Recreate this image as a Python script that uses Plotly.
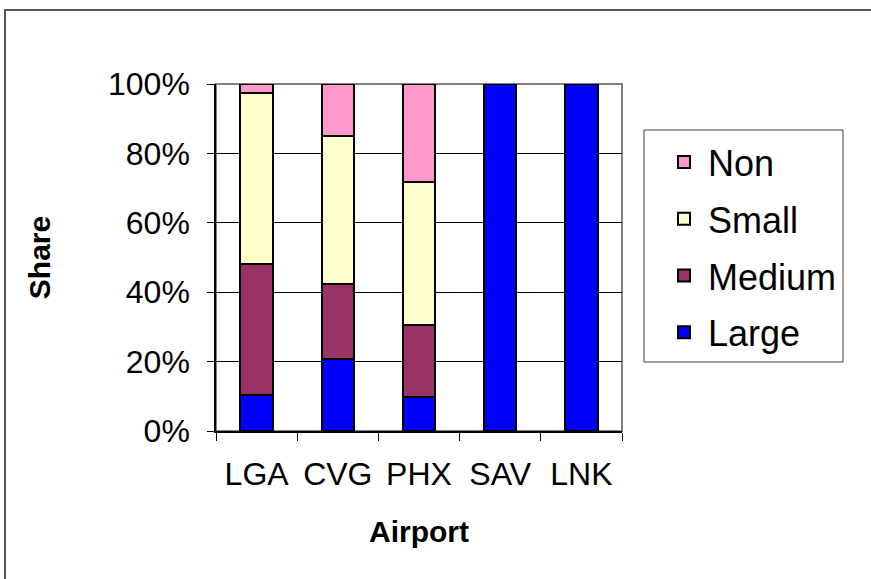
import plotly.graph_objects as go

airports = ["LGA", "CVG", "PHX", "SAV", "LNK"]
large = [0.105, 0.207, 0.099, 1.0, 1.0]
medium = [0.376, 0.217, 0.206, 0.0, 0.0]
small = [0.494, 0.427, 0.412, 0.0, 0.0]
non = [0.025, 0.149, 0.283, 0.0, 0.0]

series = [
    ("Large", large, "#0000FF", 4),
    ("Medium", medium, "#993366", 3),
    ("Small", small, "#FFFFCC", 2),
    ("Non", non, "#FF99CC", 1),
]

W, H = 871, 579
PL, PR, PT, PB = 216, 622, 84, 431      # plot area in pixels
L, T = PL, PT
R = W - PR
B = H - PB
PW, PH = PR - PL, PB - PT

def px_x(x):
    return (x - PL) / PW

def px_y(y):
    return (PB - y) / PH

FONT = "Liberation Sans, Arial, sans-serif"

fig = go.Figure()
for name, vals, color, rank in series:
    fig.add_trace(go.Bar(
        x=airports, y=vals, name=name, legendgroup=name, legendrank=rank,
        marker=dict(color=color, line=dict(color="black", width=2)),
        width=0.4,
    ))

shapes = [
    dict(type="rect", xref="paper", yref="paper", x0=0, x1=1, y0=0, y1=1,
         line=dict(color="#808080", width=2), layer="below"),
    dict(type="rect", xref="paper", yref="paper",
         x0=px_x(5), x1=px_x(900), y0=px_y(610), y1=px_y(10),
         line=dict(color="#202020", width=1.5)),
    dict(type="rect", xref="paper", yref="paper",
         x0=px_x(644), x1=px_x(843), y0=px_y(362), y1=px_y(130),
         line=dict(color="#404040", width=1)),
]

fig.update_layout(
    width=W, height=H,
    margin=dict(l=L, r=R, t=T, b=B, autoexpand=False),
    paper_bgcolor="white", plot_bgcolor="white",
    barmode="stack",
    font=dict(family=FONT, color="black", size=32),
    shapes=shapes,
    legend=dict(
        x=px_x(660), y=px_y(132), xanchor="left", yanchor="top",
        traceorder="grouped", tracegroupgap=7,
        itemwidth=38,
        font=dict(family=FONT, size=36, color="black"),
        bgcolor="rgba(0,0,0,0)", borderwidth=0,
    ),
    xaxis=dict(
        showline=True, linecolor="black", linewidth=1.5,
        ticks="outside", tickson="boundaries", ticklen=8, tickcolor="black",
        tickfont=dict(size=32), ticklabelstandoff=14,
        title=dict(text="<b>Airport</b>", font=dict(size=30), standoff=30),
        automargin=False,
    ),
    yaxis=dict(
        range=[0, 1], dtick=0.2, tickformat=".0%",
        showline=True, linecolor="black", linewidth=1.5,
        ticks="outside", ticklen=7, tickcolor="black",
        showgrid=True, gridcolor="black", gridwidth=1,
        zeroline=False,
        tickfont=dict(size=32), ticklabelstandoff=11,
        title=dict(text="<b>Share</b>", font=dict(size=30), standoff=49),
        automargin=False,
    ),
)

fig.write_html("out.html", config={"displayModeBar": False},
               post_script="document.body.style.margin='0px';")
